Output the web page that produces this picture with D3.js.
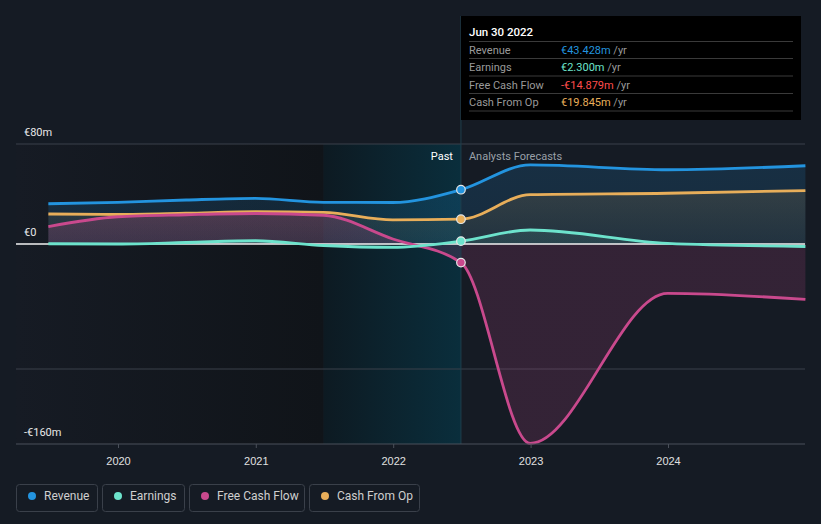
<!DOCTYPE html>
<html><head><meta charset="utf-8">
<script src="https://cdn.jsdelivr.net/npm/d3@7"></script>
<style>
html,body{margin:0;padding:0;background:#151b24;}
svg{display:block;font-family:Roboto,"Noto Sans",sans-serif;}
</style></head>
<body><svg id="c" width="821" height="524"></svg>
<script>
const dates = ["2019-06-30","2019-12-31","2020-06-30","2020-12-31","2021-06-30","2021-12-31","2022-06-30","2022-12-31","2023-12-31","2024-12-31"];
const revenue = [32.2, 33.3, 35.2, 36.5, 33.3, 33.2, 43.428, 63.3, 59.4, 62.6];
const earnings = [0.2, 0.0, 1.2, 2.6, -1.2, -2.7, 2.3, 11.2, 0.5, -2.0];
const freeCashFlow = [13.9, 21.8, 23.4, 24.4, 23.0, 4.0, -14.879, -159.5, -39.5, -44.3];
const cashFromOp = [24.0, 23.6, 24.6, 25.9, 25.3, 19.3, 19.845, 39.5, 40.6, 42.7];
const yTickValues = [80, 0, -160];
const yTickLabels = ["€80m", "€0", "-€160m"];
const gridValues = [80, -100];
const xTickYears = [2020, 2021, 2022, 2023, 2024];
const seriesNames = ["Revenue", "Earnings", "Free Cash Flow", "Cash From Op"];
const seriesColors = ["#2394df", "#6de3cc", "#c9498d", "#e8ae5a"];
const tooltipDate = "Jun 30 2022";
const tooltipValues = ["€43.428m", "€2.300m", "-€14.879m", "€19.845m"];
const tooltipColors = ["#2394df", "#6de3cc", "#ff4d4d", "#e8ae5a"];
const pastStart = "2021-06-30", nowDate = "2022-06-30";

const parse = d3.timeParse("%Y-%m-%d");
const svg = d3.select("#c");
const L = 16, R = 805, T = 144, B = 444;
const x = d3.scaleTime().domain([new Date(2020,0,1), new Date(2024,0,1)]).range([118, 668]);
const y = d3.scaleLinear().domain([-160, 80]).range([B, T]);

const defs = svg.append("defs");
const g1 = defs.append("linearGradient").attr("id","gl").attr("x1","0").attr("x2","1").attr("y1","0").attr("y2","0");
g1.append("stop").attr("offset","0").attr("stop-color","#161b24");
g1.append("stop").attr("offset","1").attr("stop-color","#101419");
const g2 = defs.append("linearGradient").attr("id","gp").attr("x1","0").attr("x2","1").attr("y1","0").attr("y2","0");
g2.append("stop").attr("offset","0").attr("stop-color","#0d1a22");
g2.append("stop").attr("offset","1").attr("stop-color","#0a2e3c");

// vertical area gradients (opacity stops), user space
function vgrad(id, color, stops) {
  const g = defs.append("linearGradient").attr("id", id).attr("gradientUnits", "userSpaceOnUse")
    .attr("x1", 0).attr("x2", 0).attr("y1", y(80)).attr("y2", y(-160));
  stops.forEach(s => g.append("stop").attr("offset", s[0]).attr("stop-color", color).attr("stop-opacity", s[1]));
}
const zeroOff = (y(0) - y(80)) / (y(-160) - y(80));
vgrad("a0", seriesColors[0], [[0, 0.17], [zeroOff, 0.14], [1, 0.14]]);
vgrad("a1", seriesColors[1], [[0, 0.14], [zeroOff, 0.1], [1, 0.1]]);
vgrad("a2", seriesColors[2], [[0, 0.32], [zeroOff, 0.17], [zeroOff + 0.001, 0.17], [1, 0.17]]);
vgrad("a3", seriesColors[3], [[0, 0.2], [zeroOff, 0.05], [1, 0.05]]);

const xPast = x(parse(pastStart)), xNow = x(parse(nowDate));
svg.append("rect").attr("x", L).attr("y", T).attr("width", xPast - L).attr("height", B - T).attr("fill", "url(#gl)");
svg.append("rect").attr("x", xPast).attr("y", T).attr("width", xNow - xPast).attr("height", B - T).attr("fill", "url(#gp)");

// grid
svg.selectAll("line.grid").data(gridValues).enter().append("line")
  .attr("x1", L).attr("x2", R).attr("y1", d => y(d)).attr("y2", d => y(d))
  .attr("stroke", "#3a404a").attr("stroke-width", 1);

const series = [revenue, earnings, freeCashFlow, cashFromOp];
const rows = series.map(s => s.map((v, i) => ({d: parse(dates[i]), v})));
const area = d3.area().curve(d3.curveMonotoneX).x(d => x(d.d)).y0(y(0)).y1(d => y(d.v));
const line = d3.line().curve(d3.curveMonotoneX).x(d => x(d.d)).y(d => y(d.v));

const order = [0, 3, 2, 1];
order.forEach(i => {
  svg.append("path").datum(rows[i]).attr("d", area).attr("fill", `url(#a${i})`);
});

// zero line
svg.append("line").attr("x1", L).attr("x2", R).attr("y1", y(0)).attr("y2", y(0)).attr("stroke", "#f2f2f2").attr("stroke-width", 1.5);

order.forEach(i => {
  svg.append("path").datum(rows[i]).attr("d", line).attr("fill", "none")
    .attr("stroke", seriesColors[i]).attr("stroke-width", 2.8);
});

// now line
svg.append("line").attr("x1", xNow).attr("x2", xNow).attr("y1", 16).attr("y2", B).attr("stroke", "#1f3f4c").attr("stroke-width", 1);

// dots
const ni = dates.indexOf(nowDate);
order.forEach(i => {
  svg.append("circle").attr("cx", xNow).attr("cy", y(series[i][ni])).attr("r", 4.3)
    .attr("fill", seriesColors[i]).attr("stroke", "#e6e6e6").attr("stroke-width", 1.2);
});

// x axis
svg.append("line").attr("x1", L).attr("x2", R).attr("y1", B).attr("y2", B).attr("stroke", "#4a505a").attr("stroke-width", 1);
const xa = svg.append("g").attr("transform", `translate(0,${B})`)
  .call(d3.axisBottom(x).tickValues(xTickYears.map(yy => new Date(yy,0,1))).tickFormat(d3.timeFormat("%Y")).tickSize(4).tickSizeOuter(0));
xa.select(".domain").remove();
xa.selectAll("line").attr("stroke", "#4a505a");
xa.selectAll("text").attr("fill", "#e0e0e0").attr("font-size", 11).attr("dy", "1.25em");

// y labels
svg.selectAll("text.yl").data(yTickValues).enter().append("text")
  .attr("x", 24).attr("y", d => y(d) - 8).text((d, i) => yTickLabels[i])
  .attr("fill", "#e8e8e8").attr("font-size", 11);

// Past / forecast labels
svg.append("text").attr("x", xNow - 8).attr("y", 160).attr("text-anchor", "end").attr("fill", "#ffffff").attr("font-size", 11).text("Past");
svg.append("text").attr("x", xNow + 8).attr("y", 160).attr("fill", "#9aa0a8").attr("font-size", 11).text("Analysts Forecasts");

// tooltip
const tt = svg.append("g");
tt.append("rect").attr("x", 461).attr("y", 16).attr("width", 340).attr("height", 104).attr("fill", "#000000");
tt.append("text").attr("x", 469).attr("y", 35.5).attr("fill", "#ffffff").attr("font-size", 11.5).attr("font-weight", 500).text(tooltipDate);
const sepY = [41.5, 58.5, 76, 93.5, 111];
sepY.forEach(sy => tt.append("line").attr("x1", 469).attr("x2", 793).attr("y1", sy).attr("y2", sy).attr("stroke", "#3a3a3a").attr("stroke-width", 1));
const rowY = [53.5, 70.5, 88.5, 105.5];
seriesNames.forEach((n, i) => {
  tt.append("text").attr("x", 469).attr("y", rowY[i]).attr("fill", "#9a9a9a").attr("font-size", 11).text(n);
  const t = tt.append("text").attr("x", 561).attr("y", rowY[i]).attr("font-size", 11);
  t.append("tspan").attr("fill", tooltipColors[i]).text(tooltipValues[i]);
  t.append("tspan").attr("fill", "#9a9a9a").text(" /yr");
});

// legend
const lx = [16, 102, 189, 309], lw = [81, 82, 115, 110];
seriesNames.forEach((n, i) => {
  const g = svg.append("g").attr("transform", `translate(${lx[i]},484)`);
  g.append("rect").attr("x", 0.5).attr("y", 0.5).attr("width", lw[i]).attr("height", 27).attr("rx", 3)
    .attr("fill", "none").attr("stroke", "#3a404a");
  g.append("circle").attr("cx", 16).attr("cy", 12).attr("r", 4).attr("fill", seriesColors[i]);
  g.append("text").attr("x", 28).attr("y", 16).attr("fill", "#cfcfcf").attr("font-size", 12).text(n);
});
</script></body></html>
